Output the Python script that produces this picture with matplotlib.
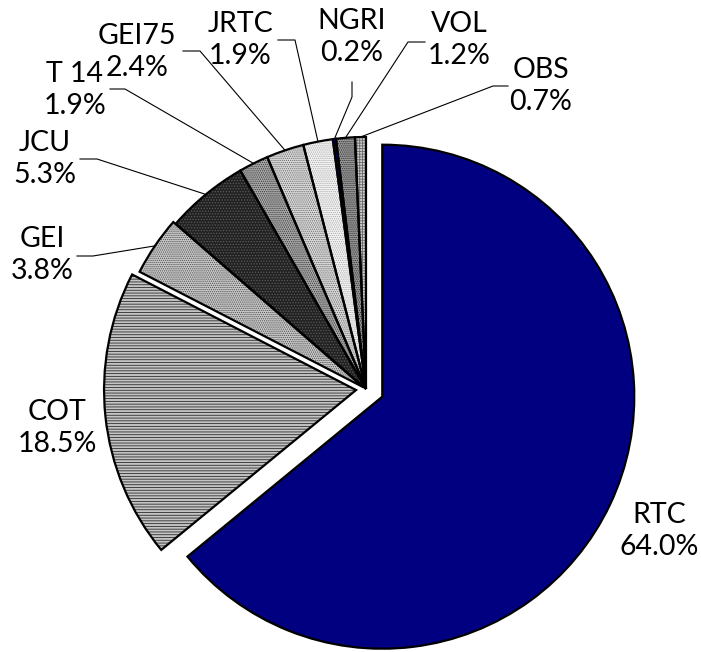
import numpy as np
import matplotlib
matplotlib.use("Agg")
from matplotlib import pyplot as plt
from matplotlib.patches import Wedge

labels = ["RTC", "COT", "GEI", "JCU", "T 14", "GEI75", "JRTC", "NGRI", "VOL", "OBS"]
shares = [64.0, 18.5, 3.8, 5.3, 1.9, 2.4, 1.9, 0.2, 1.2, 0.7]

W, H = 701, 652

# fill, hatch, hatch colour per slice (Excel style patterns)
styles = [
    ("#000080", None, None),
    ("#c4c4c4", "------", "#2c2c2c"),
    ("#c8c8c8", "........", "#505050"),
    ("#222222", "......", "#5a5a5a"),
    ("#a8a8a8", "........", "#3a3a3a"),
    ("#dadada", "........", "#6a6a6a"),
    ("#f4f4f4", "........", "#a8a8a8"),
    ("#000080", None, None),
    ("#9a9a9a", "........", "#2a2a2a"),
    ("#d0d0d0", "++++++", "#6a6a6a"),
]
# explosion distance in pixels
explode = [18, 10, 3, 0, 0, 0, 0, 0, 0, 0]

# label text centre + leader polyline (start, knee) in pixel coords, y down
label_pos = {
    "RTC": ((659, 531), None),
    "COT": ((57, 428), None),
    "GEI": ((42, 255), [(77, 256), (93, 256)]),
    "JCU": ((45, 159), [(80, 159), (97, 159)]),
    "T 14": ((75, 90), [(110, 89), (125, 89)]),
    "GEI75": ((137, 52), [(183, 51), (200, 51)]),
    "JRTC": ((240, 40), [(278, 40), (295, 40)]),
    "NGRI": ((352, 37), [(352, 82), (352, 97)]),
    "VOL": ((459, 40), [(425, 42), (408, 42)]),
    "OBS": ((541, 86), [(508, 86), (493, 86)]),
}


def px(x, y):
    return x, H - y


plt.rcParams["hatch.linewidth"] = 0.6
plt.rcParams["font.family"] = ["Lato", "DejaVu Sans"]

fig = plt.figure(figsize=(W / 100, H / 100), dpi=100)
ax = fig.add_axes([0, 0, 1, 1])

center = px(366, 389)
radius = 252
wedges, _ = ax.pie(shares, explode=explode,
                   startangle=90, counterclock=False,
                   center=center, radius=radius, normalize=True,
                   wedgeprops=dict(linewidth=0))
ax.set_xlim(0, W)
ax.set_ylim(0, H)
ax.set_aspect("equal")
ax.axis("off")

for w, (fc, hatch, hc) in zip(wedges, styles):
    w.set_facecolor(fc)
    if hatch:
        w.set_hatch(hatch)
        w.set_edgecolor(hc)
    ax.add_patch(Wedge(w.center, w.r, w.theta1, w.theta2, fill=False,
                       edgecolor="black", linewidth=1.6, zorder=3))

for w, lab, val in zip(wedges, labels, shares):
    (tx, ty), leader = label_pos[lab]
    ax.text(*px(tx, ty), f"{lab}\n{val:.1f}%", ha="center", va="center",
            fontsize=20.5, linespacing=1.3, color="black")
    if leader:
        mid = np.deg2rad((w.theta1 + w.theta2) / 2)
        end = (w.center[0] + w.r * np.cos(mid), w.center[1] + w.r * np.sin(mid))
        pts = [px(*p) for p in leader] + [end]
        xs, ys = zip(*pts)
        ax.plot(xs, ys, color="black", linewidth=0.8, zorder=4)

fig.savefig("out.png", dpi=100)
